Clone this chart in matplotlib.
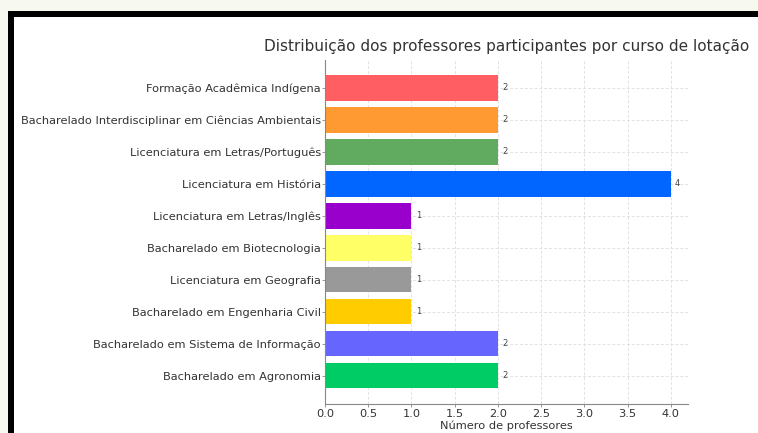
import matplotlib
matplotlib.use("Agg")
import matplotlib.pyplot as plt
from matplotlib.patches import Rectangle

categories = [
    "Formação Acadêmica Indígena",
    "Bacharelado Interdisciplinar em Ciências Ambientais",
    "Licenciatura em Letras/Português",
    "Licenciatura em História",
    "Licenciatura em Letras/Inglês",
    "Bacharelado em Biotecnologia",
    "Licenciatura em Geografia",
    "Bacharelado em Engenharia Civil",
    "Bacharelado em Sistema de Informação",
    "Bacharelado em Agronomia",
]
values = [2, 2, 2, 4, 1, 1, 1, 1, 2, 2]
colors = ["#ff5f62", "#ff9a33", "#60ab60", "#0066ff", "#9900cc",
          "#ffff66", "#999999", "#ffcc00", "#6666ff", "#00cc66"]
xticks = [0.0, 0.5, 1.0, 1.5, 2.0, 2.5, 3.0, 3.5, 4.0]

W, H = 758, 433
fig = plt.figure(figsize=(W / 100, H / 100), dpi=100)
fig.patch.set_facecolor("white")

# screenshot frame: pale strip on top, black border top and left
fig.patches.append(Rectangle((0, 1 - 12 / H), 1, 12 / H, transform=fig.transFigure,
                             facecolor="#f7f8f0", edgecolor="none", zorder=0))
fig.patches.append(Rectangle((0, 0), 8 / W, 1 - 12 / H, transform=fig.transFigure,
                             facecolor="#f7f8f0", edgecolor="none", zorder=0))
fig.patches.append(Rectangle((8 / W, 1 - 17 / H), 1 - 8 / W, 6 / H, transform=fig.transFigure,
                             facecolor="black", edgecolor="none", zorder=1))
fig.patches.append(Rectangle((8 / W, 0), 6 / W, 1 - 11 / H, transform=fig.transFigure,
                             facecolor="black", edgecolor="none", zorder=1))

left, right = 325 / W, 688 / W
bottom, top = 1 - 404 / H, 1 - 59.5 / H
ax = fig.add_axes([left, bottom, right - left, top - bottom])

ypos = list(range(len(categories)))
ax.barh(ypos, values, color=colors, height=0.8, edgecolor="none", zorder=2)
ax.invert_yaxis()
ax.set_yticks(ypos)
ax.set_yticklabels(categories, fontsize=8.2, color="#333333")
ax.set_xticks(xticks)
ax.set_xticklabels([f"{t:.1f}" for t in xticks], fontsize=8.2, color="#333333")
ax.set_xlim(0, 4.2)

for y, v in zip(ypos, values):
    ax.text(v + 0.05, y, str(v), va="center", ha="left", fontsize=6, color="#444444")

ax.grid(True, linestyle=(0, (3, 2)), color="#e2e2e2", linewidth=0.7, zorder=0)
ax.set_axisbelow(True)
for s in ["top", "right"]:
    ax.spines[s].set_visible(False)
for s in ["left", "bottom"]:
    ax.spines[s].set_color("#888888")
    ax.spines[s].set_linewidth(0.8)
ax.tick_params(axis="both", colors="#888888", labelcolor="#333333", length=2, width=0.6)
ax.tick_params(axis="y", pad=1)
ax.tick_params(axis="x", pad=1.5)

ax.set_xlabel("Número de professores", fontsize=8.2, color="#333333", labelpad=1)
ax.set_title("Distribuição dos professores participantes por curso de lotação",
             fontsize=11, color="#333333", pad=6)

fig.savefig("out.png", dpi=100)
